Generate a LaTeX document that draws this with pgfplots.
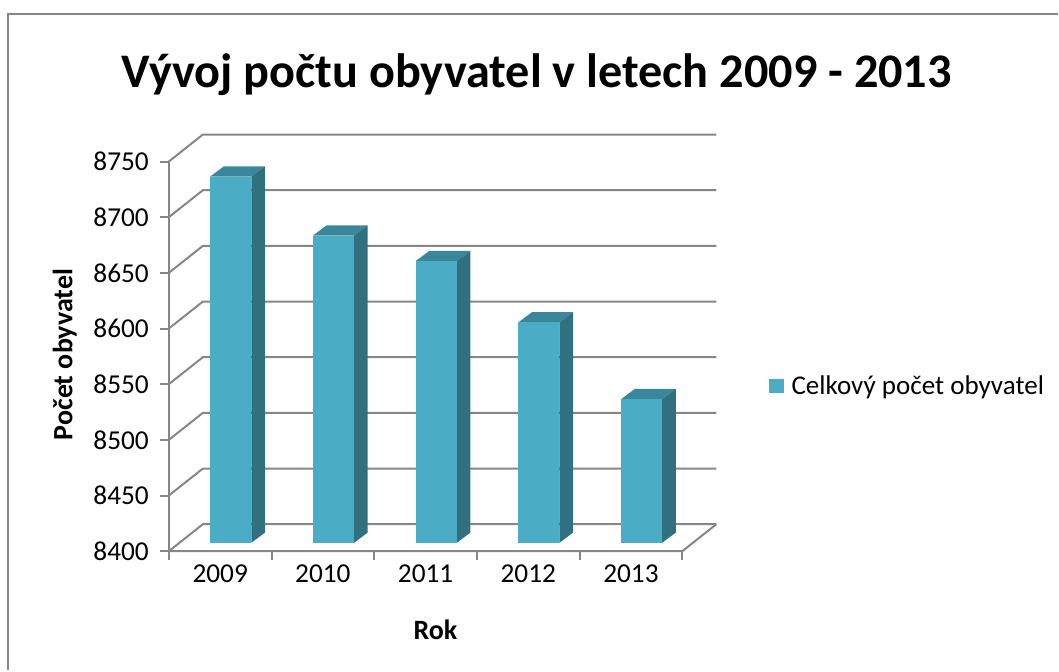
\documentclass[border=0pt]{standalone}
\usepackage{pgfplots}
\pgfplotsset{compat=1.18}
\usepackage{pgfplotstable}
\usepackage{fontspec}
\setmainfont{Carlito}
\definecolor{barfront}{HTML}{4BACC6}
\definecolor{barside}{HTML}{31707F}
\definecolor{bartop}{HTML}{3A879C}
\definecolor{gridc}{HTML}{868686}

\pgfplotstableread{
year pop
2009 8729
2010 8676
2011 8653
2012 8598
2013 8529
}\popdata

\begin{document}
\begin{tikzpicture}
\begin{axis}[
  scale only axis, width=411pt, height=312.75pt,
  xmin=0, xmax=5.331, ymin=8400, ymax=8774.2,
  axis lines*=left, axis line style={draw=none},
  clip=false,
  ytick={8400,8450,...,8750},
  xtick={0,1,2,3,4,5}, xticklabels={},
  extra x ticks={0.5,1.5,2.5,3.5,4.5},
  extra x tick labels={2009,2010,2011,2012,2013},
  extra x tick style={major tick length=0pt, xtick style={draw=none}},
  tick align=outside,
  major tick length=6.5pt,
  tick style={gridc, line width=1.5pt},
  /pgf/number format/assume math mode=true,
  /pgf/number format/1000 sep={},
  tick label style={font=\fontsize{20.5}{24}\selectfont},
  yticklabel style={xshift=-5pt},
  xticklabel style={yshift=-7pt},
  xlabel={Rok}, ylabel={Počet obyvatel},
  xlabel style={at={(axis description cs:0.487,0)}, anchor=center, yshift=-58.7pt, font=\bfseries\fontsize{21}{25}\selectfont},
  ylabel style={at={(axis description cs:-0.19,0.472)}, anchor=center, font=\bfseries\fontsize{21}{25}\selectfont},
  legend style={draw=none, fill=none, at={(1.089,0.397)}, anchor=west, font=\fontsize{20.3}{24}\selectfont},
  legend cell align=left,
]
\coordinate (O) at (rel axis cs:0,0);
\addlegendimage{legend image code/.code={\fill[barfront] (0pt,-5pt) rectangle (10pt,5pt); \path[draw=none,fill=none] (0pt,-1pt) rectangle (14.5pt,1pt);}}
\addlegendentry{Celkový počet obyvatel}
\pgfplotsforeachungrouped \g in {8400,8450,...,8750}{
  \pgfmathsetmacro\gb{\g+24.2}
  \edef\tmp{\noexpand\addplot[gridc, line width=1.5pt, forget plot] coordinates {(0,\g) (0.331,\gb) (5.331,\gb)};}
  \tmp
}
\addplot[gridc, line width=1.5pt, forget plot] coordinates {(0,8400) (5,8400) (5.331,8424.2)};
\addplot[gridc, line width=1.5pt, forget plot] coordinates {(0,8400) (0,8750)};
\pgfplotsforeachungrouped \i in {0,...,4}{
  \pgfplotstablegetelem{\i}{pop}\of\popdata
  \let\v\pgfplotsretval
  \pgfmathsetmacro\xa{\i+0.4026}
  \pgfmathsetmacro\xb{\i+0.8026}
  \pgfmathsetmacro\xc{\i+0.8026+0.134}
  \pgfmathsetmacro\xd{\i+0.4026+0.134}
  \pgfmathsetmacro\yb{8407.5}
  \pgfmathsetmacro\yt{\v+7.5}
  \pgfmathsetmacro\ybb{8407.5+9.2}
  \pgfmathsetmacro\ytb{\v+7.5+9.2}
  \edef\tmp{%
   \noexpand\addplot[fill=bartop, draw=none, forget plot] coordinates {(\xa,\yt) (\xb,\yt) (\xc,\ytb) (\xd,\ytb)} --cycle;
   \noexpand\addplot[fill=barside, draw=none, forget plot] coordinates {(\xb,\yb) (\xc,\ybb) (\xc,\ytb) (\xb,\yt)} --cycle;
   \noexpand\addplot[fill=barfront, draw=none, forget plot] coordinates {(\xa,\yb) (\xb,\yb) (\xb,\yt) (\xa,\yt)} --cycle;
  }%
  \tmp
}
\end{axis}
\begin{scope}[shift={(O)}, x=0.75pt, y=0.75pt]
\path (-169,551.7) rectangle (890,-119.3);
\draw[gridc, line width=1.5pt] (-160.5,-119.3) -- (-160.5,537.2) -- (890,537.2);
\node[anchor=base, font=\bfseries\fontsize{36.2}{43}\selectfont] at (368,463.7) {Vývoj počtu obyvatel v letech 2009 - 2013};
\end{scope}
\end{tikzpicture}
\end{document}
